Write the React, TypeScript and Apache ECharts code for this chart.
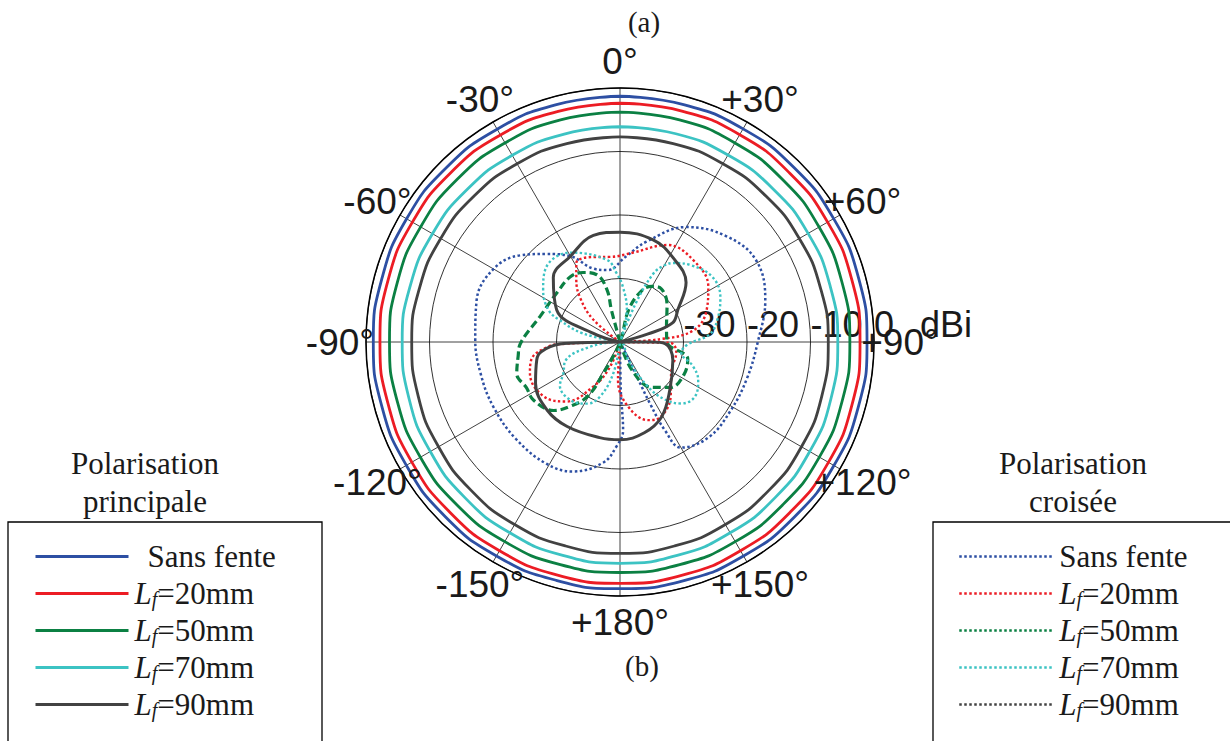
import React, { useEffect, useRef } from "react";
import * as echarts from "echarts";

// ---------- data (dBi vs angle in degrees, clockwise from top) ----------
const RADIUS_MIN = -40;
const RADIUS_MAX = 0;
const RADIUS_STEP = 10;
const ANGLE_STEP = 30;
const ANGLE_TICKS = [0, 30, 60, 90, 120, 150, 180, 210, 240, 270, 300, 330];

// co-polar (principal) patterns sampled every 15 degrees, 0..345
const MAIN_ANGLES = [0, 15, 30, 45, 60, 75, 90, 105, 120, 135, 150, 165, 180, 195, 210, 225, 240, 255, 270, 285, 300, 315, 330, 345];
const P_SANS = [-1.3, -1.3, -1.25, -1.2, -1.15, -1.1, -1.1, -1.1, -1.1, -1.1, -1.1, -1.1, -1.15, -1.15, -1.1, -1.1, -1.15, -1.15, -1.15, -1.2, -1.2, -1.25, -1.3, -1.3];
const P_20 = [-2.4, -2.35, -2.3, -2.3, -2.25, -2.2, -2.2, -2.15, -2.1, -2.1, -2.05, -2.0, -2.0, -2.0, -2.05, -2.1, -2.15, -2.2, -2.2, -2.2, -2.25, -2.3, -2.35, -2.4];
const P_50 = [-3.8, -3.8, -3.8, -3.8, -3.8, -3.8, -3.8, -3.8, -3.75, -3.75, -3.7, -3.7, -3.7, -3.7, -3.7, -3.7, -3.7, -3.7, -3.7, -3.7, -3.75, -3.75, -3.8, -3.8];
const P_70 = [-6.1, -6.05, -6.0, -5.9, -5.8, -5.75, -5.7, -5.6, -5.5, -5.4, -5.3, -5.2, -5.15, -5.2, -5.3, -5.4, -5.5, -5.6, -5.7, -5.8, -5.9, -6.0, -6.05, -6.1];
const P_90 = [-7.7, -7.65, -7.6, -7.5, -7.4, -7.3, -7.2, -7.1, -7.0, -6.9, -6.8, -6.75, -6.7, -6.75, -6.8, -6.9, -7.0, -7.1, -7.2, -7.3, -7.4, -7.5, -7.6, -7.65];

// cross-polar patterns (angle, dBi) in drawing order
const X_SANS_ANG = [180, 179, 178, -178, -172, -160, -149, -133, -117, -103, -89, -74, -60, -49, -40, -30, -20, -10, 4, 15, 30, 45, 59, 74, 90, 106, 122, 137, 150, 153, 154, 154, 155];
const X_SANS_DB = [-40, -32.1, -26.1, -23.5, -20.8, -18.3, -17.6, -17.6, -17.6, -17.5, -17.2, -16.5, -17.0, -19.2, -21.9, -24.4, -27.7, -28.5, -26.5, -23.6, -19.1, -16.4, -15.0, -16.2, -18.3, -19.2, -19.5, -19.5, -20.8, -24.3, -29.1, -34.6, -40];

const X_20_ANG = [-55, -50, -42, -35, -29, -17, -7, 8, 26, 42, 58, 70, 81, 86, 88, 91, 100, 121, 137, 151, 160, 173, -177, -175, -91, -92, -94, -101, -109, -125, -138, -149, -158, -160];
const X_20_DB = [-40, -34.5, -30.6, -28.0, -25.8, -26.0, -26.5, -25.8, -23.0, -22.7, -23.6, -25.5, -28.3, -33.7, -40, -32.1, -31.0, -30.6, -28.3, -26.6, -26.9, -29.8, -34.0, -40, -40, -30.6, -28.5, -25.8, -25.0, -25.2, -27.4, -31.8, -35.7, -40];

const X_50_ANG = [-15, -15, -14, -19, -28, -37, -52, -72, -91, -98, -107, -116, -124, -136, -142, -149, -152, -155, 10, 15, 23, 30, 38, 52, 72, 90, 104, 117, 132, 145, 157, 160];
const X_50_DB = [-40, -34.8, -31.5, -28.8, -27.6, -27.1, -27.4, -26.8, -24.3, -23.8, -23.0, -23.6, -23.6, -25.0, -27.1, -29.9, -34.3, -40, -40, -34.8, -31.2, -29.9, -29.4, -30.6, -32.3, -32.6, -29.0, -28.7, -29.3, -31.3, -35.3, -40];

const X_70_ANG = [-80, -77, -70, -66, -56, -45, -29, -9, -3, 3, 12, 16, 20, 22, 26, 30, 34, 43, 55, 66, 76, 85, 92, 100, 108, 116, 126, 135, 142, 148, 155, 158, -95, -99, -109, -119, -126, -140, -152, -160, -168, -172];
const X_70_DB = [-40, -34.0, -29.9, -27.7, -25.4, -23.5, -23.9, -26.9, -29.1, -31.3, -34.8, -40, -40, -33.7, -28.0, -26.1, -25.0, -23.5, -22.2, -22.7, -24.1, -25.8, -29.3, -30.2, -28.0, -26.3, -25.4, -26.3, -28.5, -31.7, -36.9, -40, -40, -35.3, -30.9, -29.8, -28.3, -28.0, -29.0, -30.9, -35.0, -40];

const X_90_ANG = [-78, -72, -63, -46, -30, -14, 0, 18, 32, 48, 61, 70, 74, 78, 89, 90, 92, 109, 134, 151, 165, 180, -168, -148, -133, -116, -102, -97, -92, -91, -90];
const X_90_DB = [-40, -35.6, -28.8, -25.4, -24.4, -22.7, -22.7, -23.1, -24.3, -26.0, -29.6, -31.2, -35.4, -40, -40, -35.0, -32.9, -31.2, -29.1, -26.5, -25.2, -24.6, -24.6, -24.3, -24.3, -25.2, -26.6, -27.5, -30.5, -35.0, -40];

const LF_VALUES = [20, 50, 70, 90];
const SANS_LABEL = "Sans fente";
const TITLE_MAIN = ["Polarisation", "principale"];
const TITLE_CROSS = ["Polarisation", "croisée"];
const PANEL_A = "(a)";
const PANEL_B = "(b)";
const UNIT = "dBi";

// ---------- styles ----------
const SANS = '"Liberation Sans", Arial, Helvetica, sans-serif';
const SERIF = '"Liberation Serif", "Times New Roman", Times, serif';
const TXT = "#1a1a1a";
const COLORS = ["#2d4fa3", "#ec1c24", "#0b8043", "#3cc3c3", "#424242"];
const ANGLE_LABEL_RADIUS = 4.1; // dB value just outside the 0 dB circle
const LEG_FS = 31;

const toAxisAngle = (t: number) => (t < 90 ? t + 360 : t);
const loopData = (angles: number[], vals: number[]) => {
  const pts = angles.map((a, i) => [vals[i], toAxisAngle(a)]);
  pts.push(pts[0]);
  return pts;
};
const pathData = (angles: number[], vals: number[]) => angles.map((a, i) => [vals[i], toAxisAngle(a)]);

const angleLabel = (v: number) => {
  const a = ((v % 360) + 360) % 360;
  if (a === 0) return "0°";
  if (a <= 180) return "+" + a + "°";
  return "-" + (360 - a) + "°";
};

const richFor = (padSans: number, padL: number) => ({
  a: { fontFamily: SERIF, fontSize: LEG_FS, color: TXT, lineHeight: 30, padding: [0, 0, 0, padSans] },
  i: { fontFamily: SERIF, fontStyle: "italic", fontSize: LEG_FS, color: TXT, lineHeight: 30, padding: [0, 0, 0, padL] },
  s: { fontFamily: SERIF, fontStyle: "italic", fontSize: 20, color: TXT, lineHeight: 12, verticalAlign: "bottom" },
  n: { fontFamily: SERIF, fontSize: LEG_FS, color: TXT, lineHeight: 30 },
});

export default function App() {
  const ref = useRef<HTMLDivElement>(null);
  useEffect(() => {
    if (!ref.current) return;
    const chart = echarts.init(ref.current, undefined, { renderer: "svg" });

    const mainNames = ["P0", ...LF_VALUES.map((v) => "P" + v)];
    const crossNames = ["X0", ...LF_VALUES.map((v) => "X" + v)];
    const mainVals = [P_SANS, P_20, P_50, P_70, P_90];
    const crossAng = [X_SANS_ANG, X_20_ANG, X_50_ANG, X_70_ANG, X_90_ANG];
    const crossDb = [X_SANS_DB, X_20_DB, X_50_DB, X_70_DB, X_90_DB];
    const crossType: any[] = ["dotted", "dotted", [8, 4], "dotted", "solid"];
    const crossWidth = [2.5, 2.4, 3.2, 2.4, 3];

    const legendText = (name: string) => {
      const k = name.slice(1);
      if (k === "0") return "{a|" + SANS_LABEL + "}";
      return "{i|L}{s|f}{n|=" + k + "mm}";
    };

    const series: any[] = [];
    mainNames.forEach((n, i) => {
      series.push({
        type: "line",
        coordinateSystem: "polar",
        name: n,
        data: loopData(MAIN_ANGLES, mainVals[i]),
        symbol: "none",
        smooth: true,
        lineStyle: { color: COLORS[i], width: 2.8 },
        itemStyle: { color: COLORS[i] },
        z: 3,
      });
    });
    crossNames.forEach((n, i) => {
      series.push({
        type: "line",
        coordinateSystem: "polar",
        name: n,
        data: pathData(crossAng[i], crossDb[i]),
        symbol: "none",
        smooth: 0.4,
        lineStyle: { color: COLORS[i], width: crossWidth[i], type: crossType[i] },
        itemStyle: { color: COLORS[i] },
        z: 4,
      });
    });
    // angle tick labels, centred on points just outside the outer circle
    series.push({
      type: "scatter",
      coordinateSystem: "polar",
      name: "angleLabels",
      silent: true,
      clip: false,
      symbol: "circle",
      symbolSize: 0,
      itemStyle: { color: TXT },
      data: ANGLE_TICKS.map((a) => [ANGLE_LABEL_RADIUS, toAxisAngle(a)]),
      label: {
        show: true,
        position: "inside",
        formatter: (p: any) => angleLabel(p.value[1]),
        fontFamily: SANS,
        fontSize: 37,
        color: TXT,
        opacity: 1,
        textBorderWidth: 0,
      },
      z: 6,
    });

    const legendBase = {
      orient: "vertical",
      top: 536,
      itemHeight: 14,
      itemGap: 6,
      selectedMode: false,
      formatter: legendText,
      itemStyle: { color: "rgba(0,0,0,0)", borderWidth: 0, opacity: 0 },
    };

    const option: any = {
      animation: false,
      backgroundColor: "#ffffff",
      polar: { center: [620, 342], radius: 254 },
      angleAxis: {
        type: "value",
        min: 90,
        max: 450,
        interval: ANGLE_STEP,
        startAngle: 0,
        clockwise: true,
        axisLine: { show: true, lineStyle: { color: "#000", width: 1.5 } },
        axisTick: { show: false },
        splitLine: { show: true, lineStyle: { color: "#111", width: 0.8 } },
        axisLabel: { show: false },
      },
      radiusAxis: {
        type: "value",
        min: RADIUS_MIN,
        max: RADIUS_MAX,
        interval: RADIUS_STEP,
        axisLine: { show: false },
        axisTick: { show: false },
        splitLine: { show: true, lineStyle: { color: "#333", width: 1 } },
        axisLabel: {
          show: true,
          formatter: (v: number) => (v === RADIUS_MIN ? "" : String(v)),
          fontFamily: SANS,
          fontSize: 36,
          color: TXT,
          margin: 0,
          align: "left",
        },
        name: UNIT,
        nameLocation: "end",
        nameGap: 46,
        nameTextStyle: { fontFamily: SANS, fontSize: 36, color: TXT, verticalAlign: "bottom" },
      },
      legend: [
        {
          ...legendBase,
          left: 29,
          itemWidth: 93,
          data: mainNames,
          lineStyle: { width: 3 },
          textStyle: { fontFamily: SERIF, fontSize: LEG_FS, color: TXT, lineHeight: 30, rich: richFor(14, 1) },
        },
        {
          ...legendBase,
          left: 953,
          itemWidth: 94,
          data: crossNames,
          lineStyle: { width: 2.5, type: "dotted" },
          textStyle: { fontFamily: SERIF, fontSize: LEG_FS, color: TXT, lineHeight: 30, rich: richFor(1, 1) },
        },
      ],
      graphic: [
        { type: "text", x: 644, y: 22, style: { text: PANEL_A, font: "29px " + SERIF, fill: TXT, textAlign: "center", textVerticalAlign: "middle" } },
        { type: "text", x: 642, y: 666, style: { text: PANEL_B, font: "29px " + SERIF, fill: TXT, textAlign: "center", textVerticalAlign: "middle" } },
        { type: "text", x: 145, y: 463, style: { text: TITLE_MAIN[0], font: "31px " + SERIF, fill: TXT, textAlign: "center", textVerticalAlign: "middle" } },
        { type: "text", x: 145, y: 501, style: { text: TITLE_MAIN[1], font: "31px " + SERIF, fill: TXT, textAlign: "center", textVerticalAlign: "middle" } },
        { type: "text", x: 1073, y: 463, style: { text: TITLE_CROSS[0], font: "31px " + SERIF, fill: TXT, textAlign: "center", textVerticalAlign: "middle" } },
        { type: "text", x: 1073, y: 501, style: { text: TITLE_CROSS[1], font: "31px " + SERIF, fill: TXT, textAlign: "center", textVerticalAlign: "middle" } },
        { type: "rect", shape: { x: 8, y: 522, width: 314, height: 240 }, style: { fill: "none", stroke: "#000", lineWidth: 1.3 } },
        { type: "rect", shape: { x: 933, y: 522, width: 320, height: 240 }, style: { fill: "none", stroke: "#000", lineWidth: 1.3 } },
      ],
      series,
    };
    chart.setOption(option);
    return () => chart.dispose();
  }, []);
  return <div ref={ref} style={{ position: "fixed", left: 0, top: 0, width: 1230, height: 741, background: "#fff" }} />;
}
